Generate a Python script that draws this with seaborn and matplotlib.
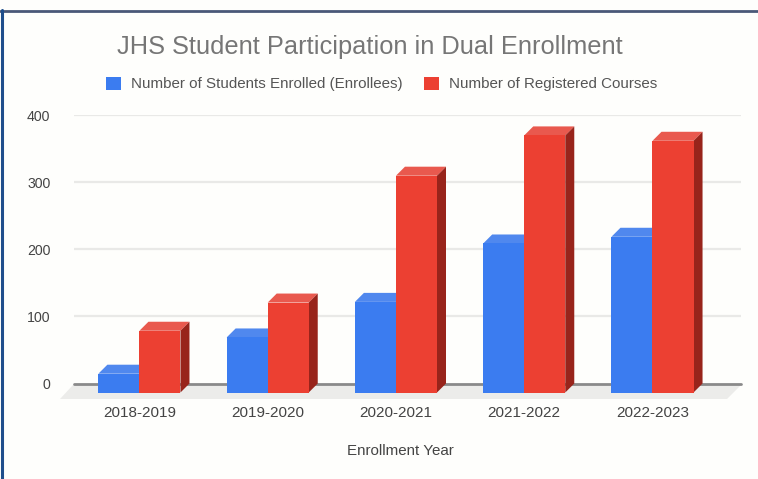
import matplotlib
matplotlib.use('Agg')
import matplotlib.pyplot as plt
from matplotlib.lines import Line2D
from matplotlib.patches import Polygon
import pandas as pd
import seaborn as sns

years = ['2018-2019', '2019-2020', '2020-2021', '2021-2022', '2022-2023']
enrollees = [28, 82, 135, 222, 232]
courses = [92, 134, 323, 383, 375]
enrollees_name = 'Number of Students Enrolled (Enrollees)'
courses_name = 'Number of Registered Courses'

W, H = 758, 479
DEPTH_X, DEPTH_Y = 9, 9  # size of the fake 3d offset in pixels

sns.set_theme(style='white')
plt.rcParams['font.family'] = ['Liberation Sans', 'DejaVu Sans']

df = pd.DataFrame({
    'year': years * 2,
    'value': enrollees + courses,
    'series': [enrollees_name] * len(years) + [courses_name] * len(years),
})
colors = {enrollees_name: '#3b7cf0', courses_name: '#ec4032'}
tops = {enrollees_name: '#5088ee', courses_name: '#e9594e'}
sides = {enrollees_name: '#28549f', courses_name: '#98241b'}

fig = plt.figure(figsize=(W / 100, H / 100), dpi=100, facecolor='#fefefc')
ax = fig.add_axes([74 / W, 1 - 383.5 / H, 667 / W, 268.5 / H])
ax.patch.set_alpha(0)

sns.barplot(data=df, x='year', y='value', hue='series', hue_order=[enrollees_name, courses_name],
            palette=colors, width=0.64, gap=0, saturation=1, linewidth=0, edgecolor='none', ax=ax, zorder=3)
ax.set_xlim(-0.51, 4.69)
ax.set_ylim(0, 400)

# grid and baseline
ax.set_yticks([0, 100, 200, 300, 400])
for y in [100, 200, 300, 400]:
    ax.axhline(y, color='#e9e9e7', lw=1.6, zorder=1)
ax.axhline(0, color='#8a8a8a', lw=2, zorder=2, clip_on=False)
sns.despine(ax=ax, left=True, bottom=True, top=True, right=True)


def px(x, y):
    return (x / W, 1 - y / H)


# floor under the bars
fig.add_artist(Polygon([px(73, 385), px(741, 385), px(727, 399), px(60, 399)],
                       closed=True, transform=fig.transFigure, fc='#ececea', ec='none', zorder=0))

# push the front faces down, then add top and side faces
to_data = ax.transData.inverted()
dx = to_data.transform((DEPTH_X, 0))[0] - to_data.transform((0, 0))[0]
dy = to_data.transform((0, DEPTH_Y))[1] - to_data.transform((0, 0))[1]
for k, (name, container) in enumerate(zip([enrollees_name, courses_name], ax.containers)):
    for bar in container:
        bar.set_y(bar.get_y() - dy)
        bar.set_clip_on(False)
        bar.set_zorder(3 + 2 * k)
        x0, x1 = bar.get_x(), bar.get_x() + bar.get_width()
        y0, y1 = bar.get_y(), bar.get_y() + bar.get_height()
        ax.add_patch(Polygon([(x0, y1), (x1, y1), (x1 + dx, y1 + dy), (x0 + dx, y1 + dy)], closed=True,
                             fc=tops[name], ec='none', zorder=2.5 + 2 * k, clip_on=False))
        ax.add_patch(Polygon([(x1, y0), (x1 + dx, y0 + dy), (x1 + dx, y1 + dy), (x1, y1)], closed=True,
                             fc=sides[name], ec='none', zorder=2.5 + 2 * k, clip_on=False))

ax.set_xlabel('')
ax.set_ylabel('')
ax.tick_params(axis='y', length=0, pad=17, labelsize=10.2, labelcolor='#444444')
ax.tick_params(axis='x', length=0, pad=16, labelsize=11, labelcolor='#444444')

handles, labels = ax.get_legend_handles_labels()
ax.get_legend().remove()
fig.legend(handles, labels, loc='center left', bbox_to_anchor=(106 / W, 1 - 84 / H), ncol=2, frameon=False,
           fontsize=10.9, labelcolor='#555555', handlelength=1.0, handleheight=1.0, handletextpad=0.66,
           columnspacing=1.39, borderpad=0, borderaxespad=0)

fig.text(370 / W, 1 - 47 / H, 'JHS Student Participation in Dual Enrollment', ha='center', va='center',
         fontsize=18.3, color='#767676')
fig.text(400.5 / W, 1 - 451 / H, 'Enrollment Year', ha='center', va='center', fontsize=10.9, color='#444444')

# screenshot frame
fig.add_artist(Line2D([0, 1], [1 - 10.5 / H] * 2, color='#4a5878', lw=2))
fig.add_artist(Line2D([1.5 / W] * 2, [0, 1 - 10 / H], color='#1f4e8c', lw=2.2))

fig.savefig('out.png', dpi=100)
